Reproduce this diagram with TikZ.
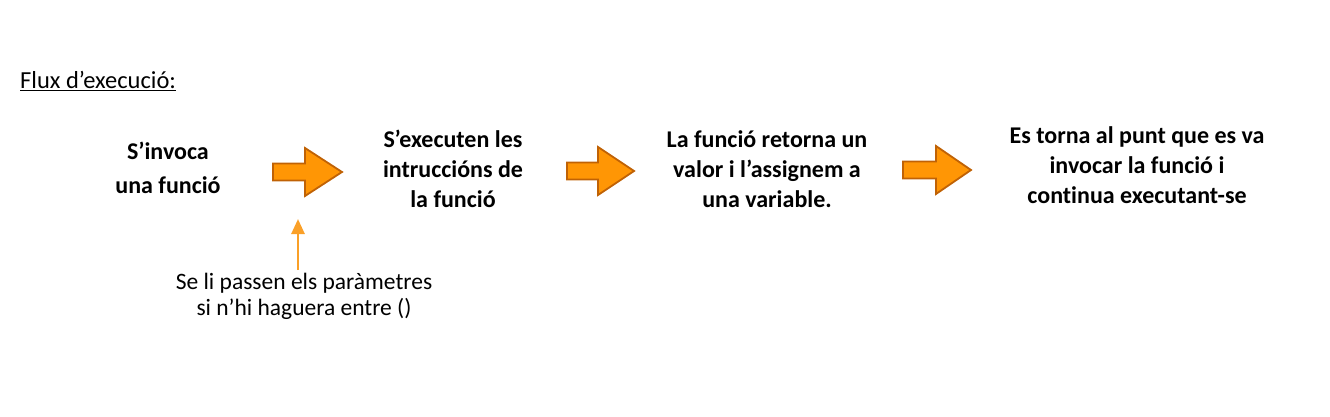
\documentclass[tikz,border=0pt]{standalone}
\usepackage{fontspec}
\setmainfont{Carlito}[Ligatures={NoCommon}]
\usetikzlibrary{arrows.meta}
\definecolor{orfill}{RGB}{255,150,5}
\definecolor{ordraw}{RGB}{192,98,5}
\definecolor{orline}{RGB}{250,160,40}
\tikzset{
  stepbox/.style={align=center,font=\fontsize{24}{30}\selectfont\bfseries,inner sep=0pt},
  note/.style={align=center,font=\fontsize{23.5}{26}\selectfont,inner sep=0pt},
  bigarrow/.style={fill=orfill,draw=ordraw,line width=1.8pt,line join=miter},
}
\newcommand{\orarrow}[4]{% x0, head base, tip, yc
  \draw[bigarrow] (#1,#4-8.5) -- (#2,#4-8.5) -- (#2,#4-24) -- (#3,#4) -- (#2,#4+24) -- (#2,#4+8.5) -- (#1,#4+8.5) -- cycle;}
\begin{document}
\begin{tikzpicture}[x=1pt,y=-1pt]
\useasboundingbox (0,0) rectangle (1330,417);
\node[anchor=base west,inner sep=0pt,font=\fontsize{24.5}{28}\selectfont] (title) at (20,89) {\underline{Flux d’execució:}};
\node[stepbox] (s1) at (168,168) {S’invoca\\[4pt]una funció};
\node[stepbox] (s2) at (453,169) {S’executen les\\intruccións de\\la funció};
\node[stepbox] (s3) at (767,169) {La funció retorna un\\valor i l’assignem a\\una variable.};
\node[stepbox] (s4) at (1137,165) {Es torna al punt que es va\\invocar la funció i\\continua executant-se};
\orarrow{273}{305}{342}{172}
\orarrow{567}{598}{634}{171}
\orarrow{903}{936}{971}{170}
\node[note] (lab) at (304,296) {Se li passen els paràmetres\\si n’hi haguera entre ()};
\coordinate (pb) at (298,270);
\coordinate (pt) at (298,219);
\draw[orline,line width=2.6pt,-{Triangle[length=15pt,width=13pt]}] (pb) -- (pt);
\end{tikzpicture}
\end{document}
